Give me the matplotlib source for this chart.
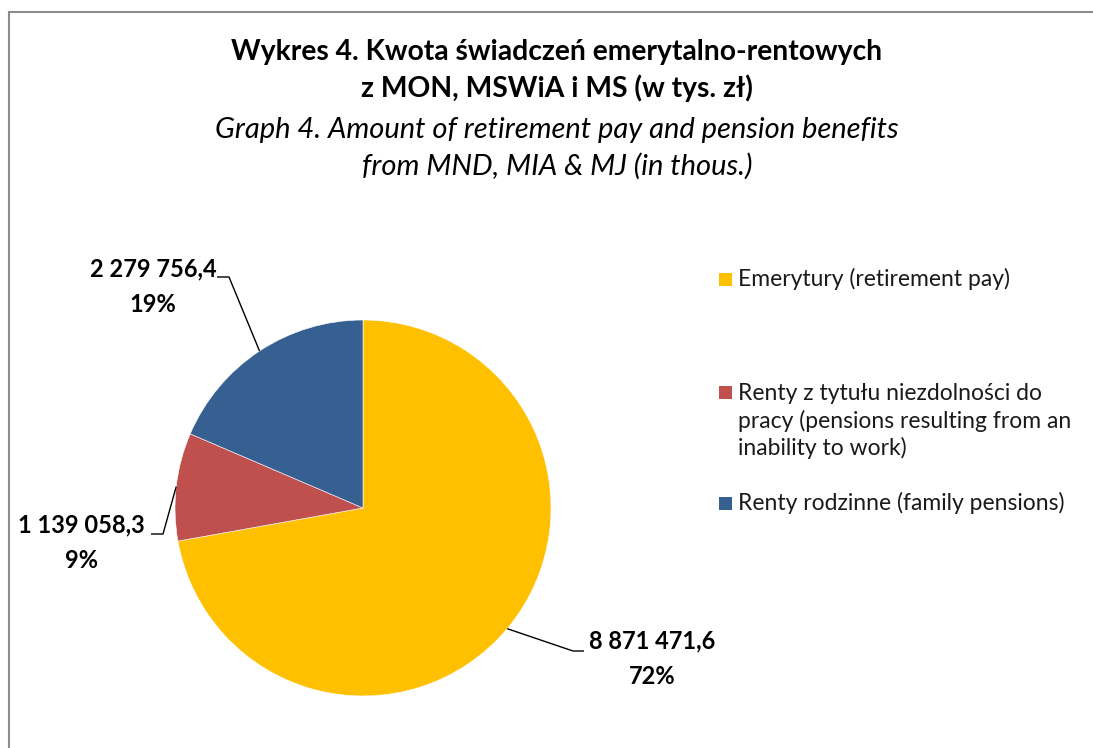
import matplotlib
matplotlib.use("Agg")
import matplotlib.pyplot as plt
import matplotlib.patches as mpatches
from matplotlib.lines import Line2D
import numpy as np

plt.rcParams['font.family'] = ['Lato', 'DejaVu Sans']

# data (w tys. zł)
categories = ["Emerytury (retirement pay)",
              "Renty z tytułu niezdolności do\npracy (pensions resulting from an\ninability to work)",
              "Renty rodzinne (family pensions)"]
values = [8871471.6, 1139058.3, 2279756.4]
value_labels = ["8 871 471,6", "1 139 058,3", "2 279 756,4"]
colors = ["#FFC000", "#C0504D", "#376092"]

W, H = 1093, 748
fig = plt.figure(figsize=(W / 100, H / 100), dpi=100)

# outer chart border (Excel-like)
fig.add_artist(Line2D([9 / W, 9 / W], [0, 1 - 12 / H], color='#8c8c8c', lw=1.5))
fig.add_artist(Line2D([9 / W, 1], [1 - 12 / H, 1 - 12 / H], color='#8c8c8c', lw=1.5))

fig.text(557 / W, 1 - 52 / H, "Wykres 4. Kwota świadczeń emerytalno-rentowych",
         ha='center', va='center', fontsize=20.3, fontweight='bold')
fig.text(557 / W, 1 - 88 / H, "z MON, MSWiA i MS (w tys. zł)",
         ha='center', va='center', fontsize=20.3, fontweight='bold')
fig.text(557 / W, 1 - 130 / H, "Graph 4. Amount of retirement pay and pension benefits",
         ha='center', va='center', fontsize=21, style='italic')
fig.text(557 / W, 1 - 166 / H, "from MND, MIA & MJ (in thous.)",
         ha='center', va='center', fontsize=21, style='italic')

# pie: centre (363, 508) px, radius 188 px
R = 188
ax = fig.add_axes([(363 - R) / W, (H - 508 - R) / H, 2 * R / W, 2 * R / H])
wedges, _ = ax.pie(values, colors=colors, startangle=90, counterclock=False,
                   radius=1, wedgeprops=dict(edgecolor='white', linewidth=0.4))
ax.set_xlim(-1, 1)
ax.set_ylim(-1, 1)
ax.set_aspect('equal')
ax.axis('off')

total = sum(values)
pcts = [f"{round(v / total * 100):.0f}%" for v in values]

# label layout: (elbow x, elbow y, line end x, text centre x, text centre y) in px
label_pos = [
    (573, 651, 584, 652, 659),
    (163, 534, 151, 81, 543),
    (229, 277, 217, 153, 287),
]

for w, vl, pc, (ex, ey, lx, tx, ty) in zip(wedges, value_labels, pcts, label_pos):
    mid = np.deg2rad((w.theta1 + w.theta2) / 2)
    x0, y0 = np.cos(mid), np.sin(mid)
    ex_d, ey_d = (ex - 363) / R, (508 - ey) / R
    lx_d = (lx - 363) / R
    ax.plot([x0, ex_d, lx_d], [y0, ey_d, ey_d], color='black', lw=1.0,
            clip_on=False, solid_capstyle='butt')
    ax.text((tx - 363) / R, (508 - ty) / R, vl + "\n" + pc, ha='center', va='center',
            fontsize=17, fontweight='bold', linespacing=1.65, clip_on=False)

# legend (manual, Excel-like spacing); square sits on the first text line
leg_y = [279, 421, 503]
line_h = 29
for c, lab, y in zip(colors, categories, leg_y):
    n = lab.count("\n") + 1
    sq_y = y - (n - 1) / 2 * line_h
    fig.add_artist(mpatches.Rectangle((719 / W, 1 - (sq_y + 6.5) / H), 13 / W, 13 / H,
                                      transform=fig.transFigure, facecolor=c,
                                      edgecolor='none'))
    fig.text(738 / W, 1 - y / H, lab, ha='left', va='center', fontsize=16.5,
             linespacing=1.3, color='#1a1a1a')

fig.savefig("out.png", dpi=100)
